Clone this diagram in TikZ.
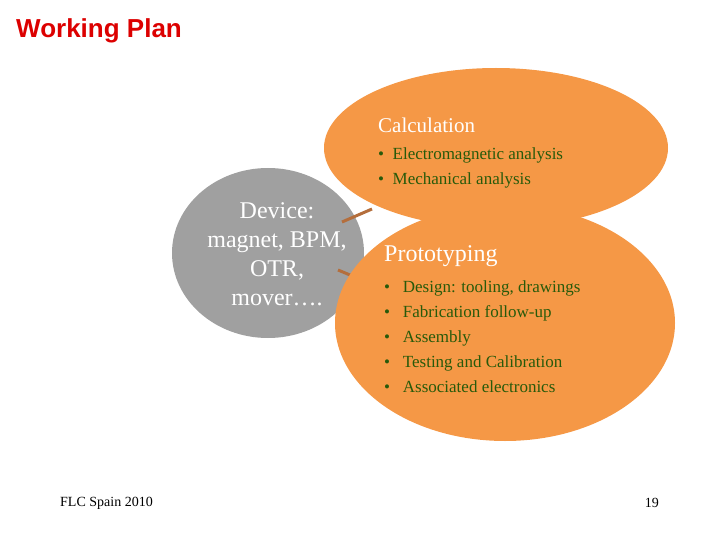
\documentclass[tikz,border=0pt]{standalone}
\usepackage{fontspec}
\setmainfont{Liberation Serif}
\newfontfamily\arialf{Liberation Sans}
\definecolor{org}{RGB}{245,152,70}
\definecolor{gry}{RGB}{160,160,160}
\definecolor{dgreen}{RGB}{40,90,10}
\definecolor{brn}{RGB}{180,110,60}
\definecolor{ttl}{RGB}{220,0,0}
\begin{document}
\begin{tikzpicture}[x=1pt,y=-1pt,
  bul/.style={anchor=north west,text=dgreen,font=\fontsize{17}{25}\selectfont,align=left,inner sep=0pt},
  ttx/.style={anchor=west,text=white,inner sep=0pt},
  conn/.style={brn,line width=3pt}]
\useasboundingbox (0,0) rectangle (720,540);
\node[anchor=west,text=ttl,font=\arialf\bfseries\fontsize{26}{30}\selectfont,inner sep=0pt] (title) at (16,31) {Working Plan};
\fill[gry] (268,253) ellipse [x radius=96,y radius=85];
\node[text=white,align=center,font=\fontsize{24}{29}\selectfont] (dev) at (277,254) {Device:\\magnet, BPM,\\OTR,\\mover\ldots.};
\fill[org] (496,148) ellipse [x radius=172,y radius=80];
\coordinate (a1) at (342,222); \coordinate (a2) at (372,209);
\coordinate (b1) at (338,270); \coordinate (b2) at (362,280);
\draw[conn] (a1) -- (a2);
\draw[conn] (b1) -- (b2);
\fill[org] (505,323) ellipse [x radius=170,y radius=118];
\node[ttx,font=\fontsize{21}{25}\selectfont] (calc) at (378,125) {Calculation};
\node[bul] (cb) at (378,148) {\textbullet\ \ Electromagnetic analysis\\\textbullet\ \ Mechanical analysis};
\node[ttx,font=\fontsize{24}{28}\selectfont] (proto) at (384,256) {Prototyping};
\node[bul] (pb) at (384,281) {\textbullet\ \ \ Design: tooling, drawings\\\textbullet\ \ \ Fabrication follow-up\\\textbullet\ \ \ Assembly\\\textbullet\ \ \ Testing and Calibration\\\textbullet\ \ \ Associated electronics};
\node[anchor=west,font=\fontsize{14}{16}\selectfont,inner sep=0pt] (foot) at (60,503) {FLC Spain 2010};
\node[anchor=east,font=\fontsize{14}{16}\selectfont,inner sep=0pt] (pg) at (659,503) {19};
\end{tikzpicture}
\end{document}
